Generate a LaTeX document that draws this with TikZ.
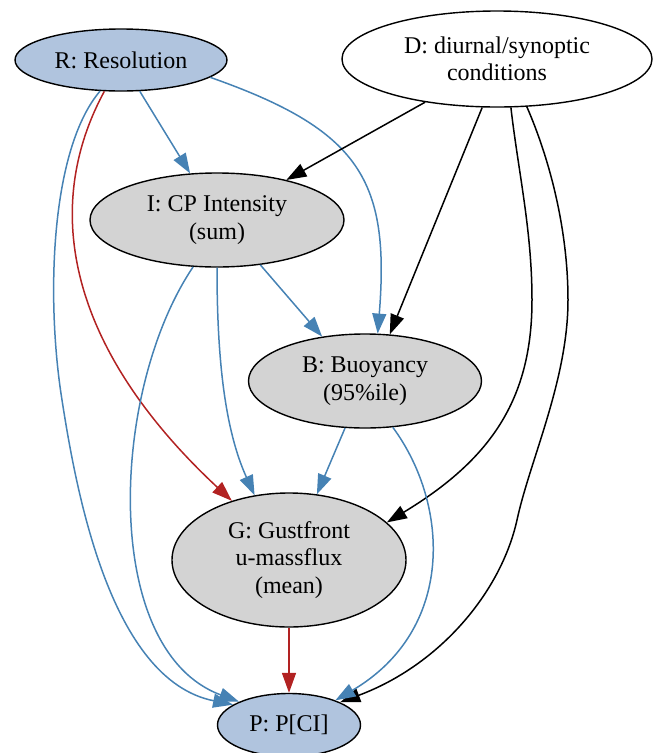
\documentclass[tikz,border=0pt]{standalone}
\usepackage{fontspec}
\setmainfont{Liberation Serif}
\usepackage{tikz}
\usetikzlibrary{shapes.geometric,arrows.meta}
\definecolor{lsteel}{HTML}{B0C4DE}
\definecolor{steel}{HTML}{4682B4}
\definecolor{brick}{HTML}{B22222}
\definecolor{lgray}{HTML}{D3D3D3}

\begin{document}
\begin{tikzpicture}
[x=1pt,y=-1pt,
var/.style={ellipse,draw=black,line width=1.4pt,inner sep=0pt,align=center,
font=\fontsize{24}{27.5}\selectfont},
obs/.style={var,fill=lsteel},
mid/.style={var,fill=lgray},
eb/.style={draw=steel,line width=1.5pt,-{Triangle[length=20pt,width=14pt]}},
er/.style={eb,draw=brick},
ek/.style={eb,draw=black}]
\useasboundingbox (0,0) rectangle (655,753);
\node[obs,minimum width=212pt,minimum height=62pt] (R) at (121,60) {R: Resolution};
\node[var,minimum width=310pt,minimum height=96pt] (D) at (497,59) {D: diurnal/synoptic\\conditions};
\node[mid,minimum width=254pt,minimum height=94pt] (I) at (217,220) {I: CP Intensity\\(sum)};
\node[mid,minimum width=233pt,minimum height=94pt] (B) at (365,381) {B: Buoyancy\\(95\%ile)};
\node[mid,minimum width=234pt,minimum height=134pt] (G) at (289,560) {G: Gustfront\\u-massflux\\(mean)};
\node[obs,minimum width=143pt,minimum height=63pt] (P) at (289,725) {P: P[CI]};
% resolution
\draw[eb] (R.-59) -- (I.120);
\draw[eb] (R.-11) .. controls (360,130) and (390,180) .. (B.75);
\draw[er] (R.-118) .. controls (40,210) and (70,350) .. (G.134);
\draw[eb] (R.-124) .. controls (50,150) and (46,300) .. (62,400)
 .. controls (76,490) and (110,680) .. (P.160);
% diurnal
\draw[ek] (D.-149) -- (I.30);
\draw[ek] (D.-107) -- (B.62);
\draw[ek] (D.-74) .. controls (518,170) and (532,230) .. (532,300)
 .. controls (532,400) and (490,460) .. (G.21);
\draw[ek] (D.-58) .. controls (550,160) and (568,230) .. (568,300)
 .. controls (568,380) and (530,460) .. (517,520)
 .. controls (501,592) and (440,665) .. (P.24);
% intensity
\draw[eb] (I.-46) -- (B.134);
\draw[eb] (I.-90) .. controls (217,360) and (225,430) .. (G.118);
\draw[eb] (I.-117) .. controls (110,390) and (100,650) .. (P.155);
% buoyancy
\draw[eb] (B.-113) -- (G.67);
\draw[eb] (B.-59) .. controls (450,505) and (455,630) .. (P.28);
% gustfront
\draw[er] (G.-90) -- (P.90);
\end{tikzpicture}
\end{document}
